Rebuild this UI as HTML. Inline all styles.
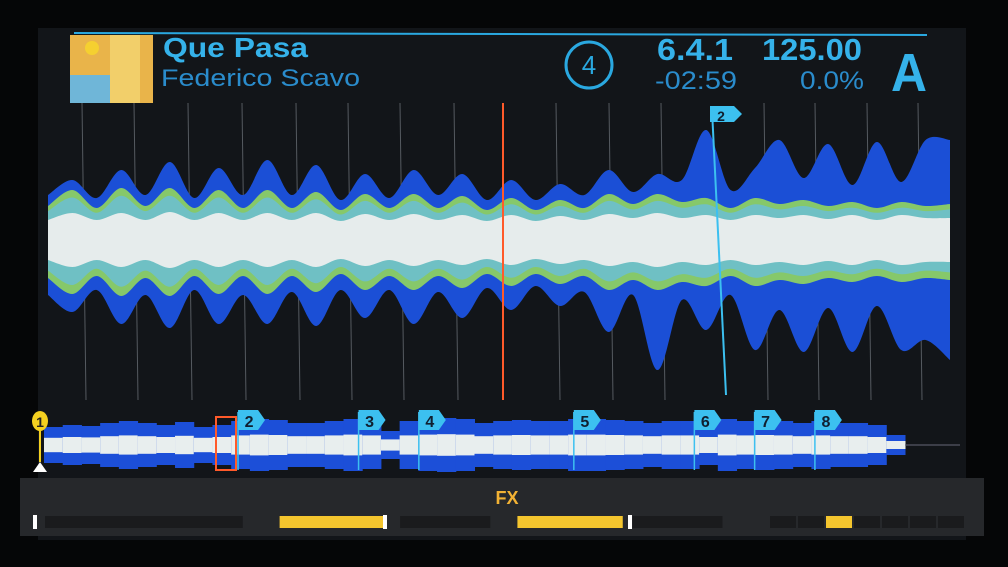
<!DOCTYPE html>
<html><head><meta charset="utf-8"><style>
html,body{margin:0;padding:0;background:#050607;width:1008px;height:567px;overflow:hidden;font-family:"Liberation Sans",sans-serif}
</style></head><body>
<svg width="1008" height="567" viewBox="0 0 1008 567">
<rect x="0" y="0" width="1008" height="567" fill="#050607"/>
<rect x="38" y="28" width="928" height="512" fill="#121519"/>
<line x1="74" y1="33" x2="927" y2="35" stroke="#2aa8e0" stroke-width="2"/>
<g>
<rect x="70" y="35" width="83" height="68" fill="#e9b44a"/>
<rect x="70" y="75" width="40" height="28" fill="#6fb6d8"/>
<rect x="110" y="35" width="30" height="68" fill="#f2cf6a"/>
<circle cx="92" cy="48" r="7" fill="#f5d030"/>
</g>
<text x="163" y="57" font-size="28" font-weight="bold" fill="#35b2ea" textLength="145" lengthAdjust="spacingAndGlyphs">Que Pasa</text>
<text x="161" y="86" font-size="24" fill="#2a8ccc" textLength="199" lengthAdjust="spacingAndGlyphs">Federico Scavo</text>
<circle cx="589" cy="65" r="23" fill="none" stroke="#2aa8e0" stroke-width="3"/>
<text x="589" y="74" font-size="26" fill="#2aa8e0" text-anchor="middle">4</text>
<text x="657" y="60" font-size="31" font-weight="bold" fill="#35b2ea" textLength="76" lengthAdjust="spacingAndGlyphs">6.4.1</text>
<text x="762" y="60" font-size="31" font-weight="bold" fill="#35b2ea" textLength="100" lengthAdjust="spacingAndGlyphs">125.00</text>
<text x="655" y="89" font-size="25" fill="#2a8ccc" textLength="82" lengthAdjust="spacingAndGlyphs">-02:59</text>
<text x="800" y="89" font-size="25" fill="#2a8ccc" textLength="64" lengthAdjust="spacingAndGlyphs">0.0%</text>
<text x="909" y="91" font-size="54" font-weight="bold" fill="#35b2ea" text-anchor="middle" textLength="36" lengthAdjust="spacingAndGlyphs">A</text>
<g id="grid"></g>
<g id="wave"></g>
<line x1="503" y1="103" x2="503" y2="400" stroke="#ff5a2a" stroke-width="2"/>
<g>
<line x1="712" y1="110" x2="726" y2="395" stroke="#3cc0f0" stroke-width="2"/>
<path d="M710 106h24l8 8-8 8h-24z" fill="#3cc0f0"/>
<text x="721" y="121" font-size="14" font-weight="bold" fill="#102030" text-anchor="middle">2</text>
</g>
<g id="overview"></g>
<rect x="20" y="478" width="964" height="58" fill="#26282b"/>
<text x="507" y="504" font-size="18" font-weight="bold" fill="#f2b234" text-anchor="middle">FX</text>
<g id="fx"></g>
</svg>
<script>
const waveBlueTop=[45,60,42,70,45,78,42,72,45,80,45,75,40,66,42,70,45,66,40,60,40,56,45,70,48,66,60,110,50,72,100,62,96,55,98,58,100,100];
const waveBlueBot=[55,72,50,84,55,88,50,84,55,84,52,86,50,78,50,84,52,78,48,70,46,66,52,92,55,130,60,90,55,110,70,112,68,112,66,110,100,120];
const waveGreen=[34,50,32,52,34,52,32,50,32,50,32,48,30,46,32,46,32,44,30,42,30,40,32,46,36,46,38,42,32,42,36,40,34,38,32,38,34,36];
const waveWhite=[20,27,20,27,20,28,20,27,20,27,20,27,19,26,20,26,20,25,19,25,19,24,20,26,22,27,22,25,20,25,22,25,21,25,20,25,22,22];
const gridX=[82,134,188,242,296,348,400,454,556,609,661,764,815,867,918];
const cueLabels=["1","2","3","4","5","6","7","8"];
const cuePos=[0.0,0.23,0.37,0.44,0.62,0.76,0.83,0.90];
const ovAmp=[18,20,19,22,24,22,20,23,18,20,24,26,25,22,22,24,26,24,14,24,26,27,26,22,24,25,24,24,26,26,25,24,22,24,24,20,26,24,25,24,22,24,22,22,20,10];
const fxSegs=[[0,0.215,"#1a1b1d"],[0.255,0.37,"#f4c52e"],[0.386,0.484,"#1a1b1d"],[0.5135,0.628,"#f4c52e"],[0.6386,0.7364,"#1a1b1d"]];
const NS="http://www.w3.org/2000/svg";
function el(t,a,p){const e=document.createElementNS(NS,t);for(const k in a)e.setAttribute(k,a[k]);p.appendChild(e);return e;}
const X0=48,X1=950,CY=240;
const sx=i=>X0+(X1-X0)*i/(waveBlueTop.length-1);
function smooth(pts){let d="M"+pts[0][0]+" "+pts[0][1];for(let i=0;i<pts.length-1;i++){const p0=pts[Math.max(0,i-1)],p1=pts[i],p2=pts[i+1],p3=pts[Math.min(pts.length-1,i+2)];d+=` C${p1[0]+(p2[0]-p0[0])/6} ${p1[1]+(p2[1]-p0[1])/6} ${p2[0]-(p3[0]-p1[0])/6} ${p2[1]-(p3[1]-p1[1])/6} ${p2[0]} ${p2[1]}`;}return d;}
function band(top,bot){const t=top.map((v,i)=>[sx(i),CY-v]);const b=bot.map((v,i)=>[sx(i),CY+v]).reverse();const sb=smooth(b);return smooth(t)+" L"+b[0][0]+" "+b[0][1]+sb.slice(sb.indexOf("C")-1)+"Z";}
const grid=document.getElementById('grid');
gridX.forEach(x=>{const l=el('line',{x1:x,y1:103,x2:x+4,y2:400,stroke:'#555a60','stroke-width':1},grid);

});
const wave=document.getElementById('wave');
const layers=[[waveBlueTop,waveBlueBot,'#1b4fd6','waveform-low'],[waveGreen,waveGreen.map(v=>v+4),'#86c86a','waveform-mid'],[waveGreen.map(v=>v*0.85),waveGreen.map(v=>v*0.9),'#6fc0c4','waveform-mid-high'],[waveWhite,waveWhite,'#e6ecec','waveform-high']];
layers.forEach(L=>{const p=el('path',{d:band(L[0],L[1]),fill:L[2]},wave);

});
const ov=document.getElementById('overview');const OX0=44,OX1=905,OCY=445;
const ow=(OX1-OX0)/ovAmp.length;
ovAmp.forEach((a,i)=>{const x=OX0+i*ow;
const r=el('rect',{x:x,y:OCY-a,width:ow+0.5,height:a*2,fill:'#1c4fd8'},ov);


el('rect',{x:x,y:OCY-a*0.4,width:ow+0.5,height:a*0.8,fill:'#e8eeee'},ov);});
el('line',{x1:OX1,y1:OCY,x2:960,y2:OCY,stroke:'#667',"stroke-width":1},ov);
const box=el('rect',{x:216,y:417,width:20,height:53,fill:'none',stroke:'#ff5a2a','stroke-width':2},ov);


cueLabels.forEach((c,i)=>{const x=OX0-4+(OX1-OX0)*cuePos[i];const g=el('g',{},ov);


if(i===0){el('line',{x1:x,y1:430,x2:x,y2:462,stroke:'#f4d020','stroke-width':2},g);el('ellipse',{cx:x,cy:421,rx:8,ry:10,fill:'#f4d020'},g);el('text',{x:x,y:427,'font-size':14,'font-weight':'bold',fill:'#222','text-anchor':'middle'},g).textContent=c;el('path',{d:`M${x-7} 472 L${x} 462 L${x+7} 472Z`,fill:'#fff'},g);}
else{el('line',{x1:x,y1:412,x2:x,y2:470,stroke:'#3cc0f0','stroke-width':1.5},g);el('path',{d:`M${x} 410h20l7 10-7 10h-20z`,fill:'#3cc0f0'},g);el('text',{x:x+11,y:427,'font-size':16,'font-weight':'bold',fill:'#102030','text-anchor':'middle'},g).textContent=c;}});
const fx=document.getElementById('fx');const FX0=45,FX1=965;
fxSegs.forEach(s=>{const r=el('rect',{x:FX0+(FX1-FX0)*s[0],y:516,width:(FX1-FX0)*(s[1]-s[0]),height:12,fill:s[2]},fx);

});
el('rect',{x:33,y:515,width:4,height:14,fill:'#fff'},fx);
el('rect',{x:383,y:515,width:4,height:14,fill:'#fff'},fx);
el('rect',{x:628,y:515,width:4,height:14,fill:'#fff'},fx);
for(let i=0;i<7;i++){const x=770+i*28;const r=el('rect',{x:x,y:516,width:26,height:12,fill:i===2?'#f4c52e':'#1a1b1d'},fx);

}
</script>
</body></html>
